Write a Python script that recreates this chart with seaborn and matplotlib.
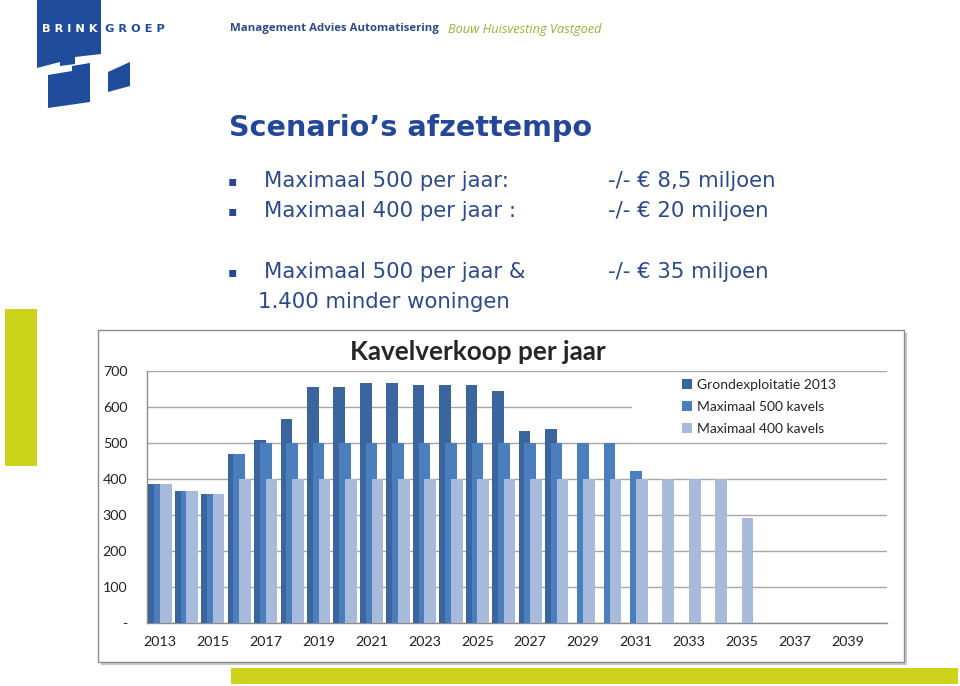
import matplotlib
matplotlib.use("Agg")
import numpy as np
import matplotlib.pyplot as plt
import matplotlib.transforms as mtransforms
import seaborn as sns
from matplotlib.patches import Polygon, Rectangle

# data
years = list(range(2013, 2041))
grondexploitatie = [385, 367, 358, 469, 508, 567, 655, 655, 666, 666, 659, 659, 659, 645, 532, 537,
                    0, 0, 0, 0, 0, 0, 0, 0, 0, 0, 0, 0]
maximaal_500 = [385, 367, 358, 469, 500, 500, 500, 500, 500, 500, 500, 500, 500, 500, 500, 500,
                500, 500, 422, 0, 0, 0, 0, 0, 0, 0, 0, 0]
maximaal_400 = [385, 367, 358, 400, 400, 400, 400, 400, 400, 400, 400, 400, 400, 400, 400, 400,
                400, 400, 400, 400, 400, 400, 290, 0, 0, 0, 0, 0]
series_names = ["Grondexploitatie 2013", "Maximaal 500 kavels", "Maximaal 400 kavels"]
series_colors = ["#3a659e", "#4a7ebd", "#a8badb"]
yticks = [0, 100, 200, 300, 400, 500, 600, 700]
ytick_labels = ["-", "100", "200", "300", "400", "500", "600", "700"]

W, H = 960, 686
navy = "#24479a"
text_blue = "#2b4a8c"
lime = "#cdd21b"


def fx(x):
    return x / W


def fy(y):
    return 1 - y / H


sns.set_style("white")
plt.rcParams["font.family"] = ["DejaVu Sans"]

fig = plt.figure(figsize=(9.6, 6.86), dpi=100)
fig.patch.set_facecolor("white")

# logo
logo = [
    [(37, 0), (101, 0), (101, 54), (75, 57), (75, 64), (60, 66), (60, 62), (37, 68)],
    [(48, 75), (72, 71), (72, 66), (90, 63), (90, 102), (48, 108)],
    [(108, 72), (130, 62), (130, 86), (108, 92)],
]
for pts in logo:
    fig.add_artist(Polygon([(fx(a), fy(b)) for a, b in pts], closed=True,
                           transform=fig.transFigure, facecolor="#1f4d9c", edgecolor="none"))
fig.text(fx(42), fy(29), "B R I N K", color="white", fontsize=8.2, weight="bold", va="center")
fig.text(fx(105), fy(29), "G R O E P", color="#1f4d9c", fontsize=8.2, weight="bold", va="center")
fig.text(fx(230), fy(29), "Management Advies Automatisering", color="#2a4a8a", fontsize=8.2,
         weight="bold", family="Open Sans", va="center")
fig.text(fx(448), fy(29), "Bouw Huisvesting Vastgoed", color="#98b23a", fontsize=9.2,
         style="italic", family="Open Sans", va="center")

# lime decorations
fig.add_artist(Rectangle((fx(5), fy(466)), fx(32), 157 / H, transform=fig.transFigure,
                         facecolor=lime, edgecolor="none"))
fig.add_artist(Rectangle((fx(231), fy(684)), fx(727), 16 / H, transform=fig.transFigure,
                         facecolor=lime, edgecolor="none"))

# slide title and bullets
fig.text(fx(229), fy(128), "Scenario\u2019s afzettempo", color=navy, fontsize=20.6,
         weight="bold", va="center")
rows = [
    (181, "Maximaal 500 per jaar:", "-/- \u20ac 8,5 miljoen"),
    (211, "Maximaal 400 per jaar :", "-/- \u20ac 20 miljoen"),
    (272, "Maximaal 500 per jaar &", "-/- \u20ac 35 miljoen"),
]
for y, left, right in rows:
    fig.text(fx(228), fy(y), "\u25aa", color=navy, fontsize=10, va="center")
    fig.text(fx(264), fy(y), left, color=text_blue, fontsize=15.3, va="center")
    fig.text(fx(608), fy(y), right, color=text_blue, fontsize=15.3, va="center")
fig.text(fx(258), fy(302), "1.400 minder woningen", color=text_blue, fontsize=15.3, va="center")

# chart frame with shadow
fig.add_artist(Rectangle((fx(101), fy(665)), fx(806), 332 / H, transform=fig.transFigure,
                         facecolor="#c8c8c8", edgecolor="none", zorder=-2))
fig.add_artist(Rectangle((fx(98), fy(662)), fx(806), 332 / H, transform=fig.transFigure,
                         facecolor="white", edgecolor="#8c8c8c", lw=1, zorder=-1))
fig.text(fx(478), fy(352), "Kavelverkoop per jaar", ha="center", va="center", fontsize=18.8,
         weight="bold", family="Lato")

ax = fig.add_axes([fx(146.7), fy(623), 740.6 / W, 252.3 / H])
ax.set_facecolor("none")

offsets = [-0.22, 0.0, 0.22]
for vals, off, col, name in zip([grondexploitatie, maximaal_500, maximaal_400], offsets,
                                series_colors, series_names):
    sns.barplot(x=np.array(years) + off, y=vals, native_scale=True, width=0.44, color=col,
                saturation=1, errorbar=None, linewidth=0, label=name, ax=ax, zorder=3)

ax.set_xlim(2012.5, 2040.5)
ax.set_ylim(0, 700)
ax.set_yticks(yticks)
ax.set_yticklabels(ytick_labels)
ax.set_xticks(years[::2])
ax.set_xticklabels([str(y) for y in years[::2]])
ax.set_xticks(np.arange(2012.5, 2041, 1), minor=True)
ax.tick_params(axis="x", which="major", length=0, pad=9, labelsize=10.3, labelcolor="#222222")
ax.tick_params(axis="x", which="minor", length=5, width=1, color="#8c8c8c", direction="out")
ax.tick_params(axis="y", length=0, pad=14, labelsize=10.3, labelcolor="#222222")
for lab in ax.get_xticklabels() + ax.get_yticklabels():
    lab.set_family("Lato")
ax.yaxis.grid(True, color="#a6a6a6", lw=1)
ax.set_axisbelow(True)
for s in ["top", "right"]:
    ax.spines[s].set_visible(False)
for s in ["left", "bottom"]:
    ax.spines[s].set_color("#8c8c8c")
    ax.spines[s].set_linewidth(1)
ax.set_xlabel("")
ax.set_ylabel("")

# legend area is blanked like in the Excel chart
blend = mtransforms.blended_transform_factory(ax.transAxes, ax.transData)
ax.add_patch(Rectangle((0.655, 530), 0.345, 150, transform=blend, facecolor="white",
                       edgecolor="none", zorder=1))
leg = ax.legend(loc="upper left", bbox_to_anchor=(0.715, 0.99), frameon=False,
                handlelength=0.7, handleheight=0.7, handletextpad=0.4, labelspacing=0.72,
                borderaxespad=0, borderpad=0.4, prop={"family": "Lato", "size": 10})
leg.set_zorder(5)

fig.savefig("out.png", dpi=100)
